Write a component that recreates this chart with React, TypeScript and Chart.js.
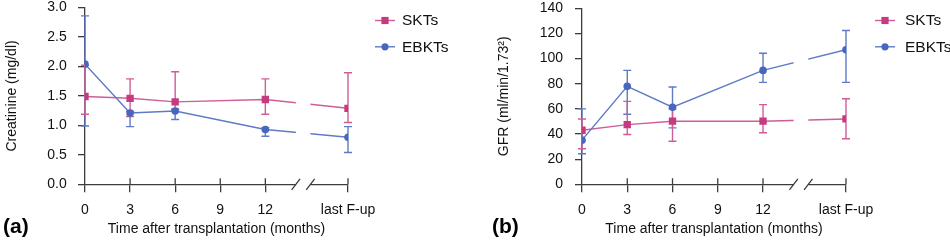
import React, { useEffect, useRef } from 'react';
import { Chart, registerables } from 'chart.js';

Chart.register(...registerables);

// ---------- data ----------
const seriesNames = ['SKTs', 'EBKTs'];
const tickMonths = [0, 3, 6, 9, 12, 17.5];
const tickLabels = ['0', '3', '6', '9', '12', 'last F-up'];
const dataMonths = [0, 3, 6, 12, 17.5];
const breakFrom = 14.03;
const breakTo = 15.0;

const creatSKT = [1.49, 1.46, 1.40, 1.44, 1.29];
const creatSKTLow = [1.19, 1.15, 1.27, 1.19, 1.05];
const creatSKTHigh = [2.02, 1.79, 1.91, 1.79, 1.895];
const creatEBKT = [2.04, 1.21, 1.245, 0.93, 0.80];
const creatEBKTLow = [0.99, 0.98, 1.10, 0.815, 0.54];
const creatEBKTHigh = [2.86, 1.24, 1.28, 0.96, 0.98];

const gfrSKT = [43.0, 47.5, 50.2, 50.2, 52.0];
const gfrSKTLow = [28.3, 39.6, 34.3, 41.0, 36.2];
const gfrSKTHigh = [52.0, 66.0, 60.0, 63.4, 68.1];
const gfrEBKT = [35.1, 77.9, 61.3, 90.6, 107.0];
const gfrEBKTLow = [24.3, 55.7, 44.9, 81.1, 81.1];
const gfrEBKTHigh = [60.0, 90.6, 77.4, 104.3, 122.3];

// ---------- style ----------
const FONT = '"Liberation Sans", Arial, Helvetica, sans-serif';
const AXIS = '#3c3c3c';
const PINK = '#c63a80';
const PINK_LINE = '#cf5e97';
const BLUE = '#4966be';
const BLUE_LINE = '#5f7bc6';

const errorBarPlugin = {
  id: 'errorBars',
  beforeDatasetsDraw(chart: any) {
    const { ctx } = chart;
    const xs = chart.scales.x;
    const ys = chart.scales.y;
    const order = [1, 0];
    order.forEach((i) => {
      const ds: any = chart.data.datasets[i];
      if (!ds || !chart.isDatasetVisible(i)) return;
      ctx.save();
      ctx.strokeStyle = ds.borderColor;
      ctx.lineWidth = 1.4;
      ds.data.forEach((pt: any, j: number) => {
        const x = xs.getPixelForValue(pt.x);
        const y1 = ys.getPixelForValue(ds.errLow[j]);
        const y2 = ys.getPixelForValue(ds.errHigh[j]);
        ctx.beginPath();
        ctx.moveTo(x, y1);
        ctx.lineTo(x, y2);
        ctx.moveTo(x - 4, y1);
        ctx.lineTo(x + 4, y1);
        ctx.moveTo(x - 4, y2);
        ctx.lineTo(x + 4, y2);
        ctx.stroke();
      });
      ctx.restore();
    });
  },
};

const breakPlugin = {
  id: 'axisBreak',
  afterDraw(chart: any, _args: any, opts: any) {
    const { ctx, chartArea } = chart;
    const xs = chart.scales.x;
    const p1 = xs.getPixelForValue(opts.from);
    const p2 = xs.getPixelForValue(opts.to);
    const ay = chartArea.bottom;
    ctx.save();
    ctx.fillStyle = '#ffffff';
    ctx.fillRect(p1, chartArea.top - 2, p2 - p1, ay - chartArea.top + 4);
    ctx.strokeStyle = AXIS;
    ctx.lineWidth = 1.3;
    ctx.beginPath();
    [p1, p2].forEach((p) => {
      ctx.moveTo(p - 4.2, ay + 5.5);
      ctx.lineTo(p + 4.2, ay - 5.5);
    });
    xs.ticks.forEach((t: any) => {
      if (t.value === 0) return;
      const x = xs.getPixelForValue(t.value);
      ctx.moveTo(x, ay);
      ctx.lineTo(x, ay - 6);
    });
    ctx.stroke();
    ctx.restore();
  },
};

const legendPlugin = {
  id: 'customLegend',
  afterDraw(chart: any, _args: any, opts: any) {
    const { ctx } = chart;
    ctx.save();
    chart.data.datasets.forEach((ds: any, i: number) => {
      const y = opts.y + i * opts.step;
      ctx.strokeStyle = ds.borderColor;
      ctx.lineWidth = 1.4;
      ctx.beginPath();
      ctx.moveTo(opts.x, y);
      ctx.lineTo(opts.x + 20, y);
      ctx.stroke();
      ctx.fillStyle = ds.pointBackgroundColor;
      const cx = opts.x + 10;
      if (ds.pointStyle === 'rect') {
        ctx.fillRect(cx - 3.6, y - 3.6, 7.2, 7.2);
      } else {
        ctx.beginPath();
        ctx.arc(cx, y, 3.6, 0, Math.PI * 2);
        ctx.fill();
      }
      ctx.fillStyle = '#111111';
      ctx.font = `15.5px ${FONT}`;
      ctx.textBaseline = 'middle';
      ctx.textAlign = 'left';
      ctx.fillText(ds.label, opts.textX, y + 0.5);
    });
    ctx.restore();
  },
};

const panelLabelPlugin = {
  id: 'panelLabel',
  afterDraw(chart: any, _args: any, opts: any) {
    const { ctx } = chart;
    ctx.save();
    ctx.fillStyle = '#000000';
    ctx.font = `bold 21px ${FONT}`;
    ctx.textBaseline = 'middle';
    ctx.textAlign = 'left';
    ctx.fillText(opts.text, opts.x, opts.y);
    ctx.restore();
  },
};

function makeConfig(p: {
  skt: number[]; sktLow: number[]; sktHigh: number[];
  ebkt: number[]; ebktLow: number[]; ebktHigh: number[];
  yMax: number; yStep: number; decimals: number; yTitle: string;
  padLeft: number; padRight: number; padTop: number; yWidth: number; yTickPad: number;
  legendX: number; legendTextX: number; label: string; labelX: number;
}): any {
  const pts = (vals: number[]) => vals.map((v, i) => ({ x: dataMonths[i], y: v }));
  return {
    type: 'line',
    data: {
      datasets: [
        {
          label: seriesNames[0],
          data: pts(p.skt),
          errLow: p.sktLow,
          errHigh: p.sktHigh,
          borderColor: PINK_LINE,
          backgroundColor: PINK,
          pointBackgroundColor: PINK,
          pointBorderColor: PINK,
          pointBorderWidth: 0,
          pointStyle: 'rect',
          pointRadius: 5.2,
          borderWidth: 1.4,
          tension: 0,
          order: 1,
        },
        {
          label: seriesNames[1],
          data: pts(p.ebkt),
          errLow: p.ebktLow,
          errHigh: p.ebktHigh,
          borderColor: BLUE_LINE,
          backgroundColor: BLUE,
          pointBackgroundColor: BLUE,
          pointBorderColor: BLUE,
          pointBorderWidth: 0,
          pointStyle: 'circle',
          pointRadius: 3.8,
          borderWidth: 1.4,
          tension: 0,
          order: 0,
        },
      ],
    },
    options: {
      animation: false,
      responsive: false,
      events: [],
      layout: { padding: { left: p.padLeft, right: p.padRight, top: p.padTop, bottom: 0 } },
      plugins: {
        legend: { display: false },
        tooltip: { enabled: false },
        axisBreak: { from: breakFrom, to: breakTo },
        customLegend: { x: p.legendX, textX: p.legendTextX, y: 20.5, step: 26.3 },
        panelLabel: { text: p.label, x: p.labelX, y: 227 },
      },
      scales: {
        x: {
          type: 'linear',
          min: 0,
          max: tickMonths[tickMonths.length - 1],
          afterFit: (s: any) => { s.height = 60.7; },
          afterBuildTicks: (s: any) => { s.ticks = tickMonths.map((v) => ({ value: v })); },
          ticks: {
            autoSkip: false,
            maxRotation: 0,
            padding: 9.3,
            color: '#111111',
            font: { family: FONT, size: 14 },
            callback: (v: number) => tickLabels[tickMonths.indexOf(v)] ?? '',
          },
          grid: { display: true, drawOnChartArea: false, drawTicks: true, tickLength: 8, color: AXIS, lineWidth: 1.3 },
          border: { display: true, color: AXIS, width: 1.3 },
          title: {
            display: true,
            text: 'Time after transplantation (months)',
            color: '#111111',
            font: { family: FONT, size: 14 },
            padding: { top: 0, bottom: 7.3 },
          },
        },
        y: {
          type: 'linear',
          min: 0,
          max: p.yMax,
          afterFit: (s: any) => { s.width = p.yWidth; s.paddingTop = 0; s.paddingBottom = 0; },
          ticks: {
            stepSize: p.yStep,
            padding: p.yTickPad,
            color: '#111111',
            font: { family: FONT, size: 14 },
            callback: (v: number) => v.toFixed(p.decimals),
          },
          grid: { display: true, drawOnChartArea: false, drawTicks: true, tickLength: 7, color: AXIS, lineWidth: 1.3 },
          border: { display: true, color: AXIS, width: 1.3 },
          title: {
            display: true,
            text: p.yTitle,
            color: '#111111',
            font: { family: FONT, size: 14 },
            padding: { top: 3.6, bottom: 0 },
          },
        },
      },
    },
    plugins: [errorBarPlugin, breakPlugin, legendPlugin, panelLabelPlugin],
  };
}

function Panel({ cfg }: { cfg: any }) {
  const ref = useRef<HTMLCanvasElement | null>(null);
  useEffect(() => {
    if (!ref.current) return;
    const chart = new Chart(ref.current, cfg);
    return () => chart.destroy();
  }, [cfg]);
  return <canvas ref={ref} width={475} height={245} style={{ display: 'block', width: 475, height: 245 }} />;
}

const cfgA = makeConfig({
  skt: creatSKT, sktLow: creatSKTLow, sktHigh: creatSKTHigh,
  ebkt: creatEBKT, ebktLow: creatEBKTLow, ebktHigh: creatEBKTHigh,
  yMax: 3, yStep: 0.5, decimals: 1, yTitle: 'Creatinine (mg/dl)',
  padLeft: 0, padRight: 127, padTop: 7.6, yWidth: 85, yTickPad: 11.3,
  legendX: 375, legendTextX: 402, label: '(a)', labelX: 3,
});

const cfgB = makeConfig({
  skt: gfrSKT, sktLow: gfrSKTLow, sktHigh: gfrSKTHigh,
  ebkt: gfrEBKT, ebktLow: gfrEBKTLow, ebktHigh: gfrEBKTHigh,
  yMax: 140, yStep: 20, decimals: 0, yTitle: 'GFR (ml/min/1.73²)',
  padLeft: 17, padRight: 104, padTop: 8.3, yWidth: 90, yTickPad: 12,
  legendX: 400, legendTextX: 430, label: '(b)', labelX: 17,
});

export default function App() {
  return (
    <div style={{ position: 'absolute', left: 0, top: 0, width: 950, height: 245, display: 'flex', background: '#fff', overflow: 'hidden' }}>
      <Panel cfg={cfgA} />
      <Panel cfg={cfgB} />
    </div>
  );
}
